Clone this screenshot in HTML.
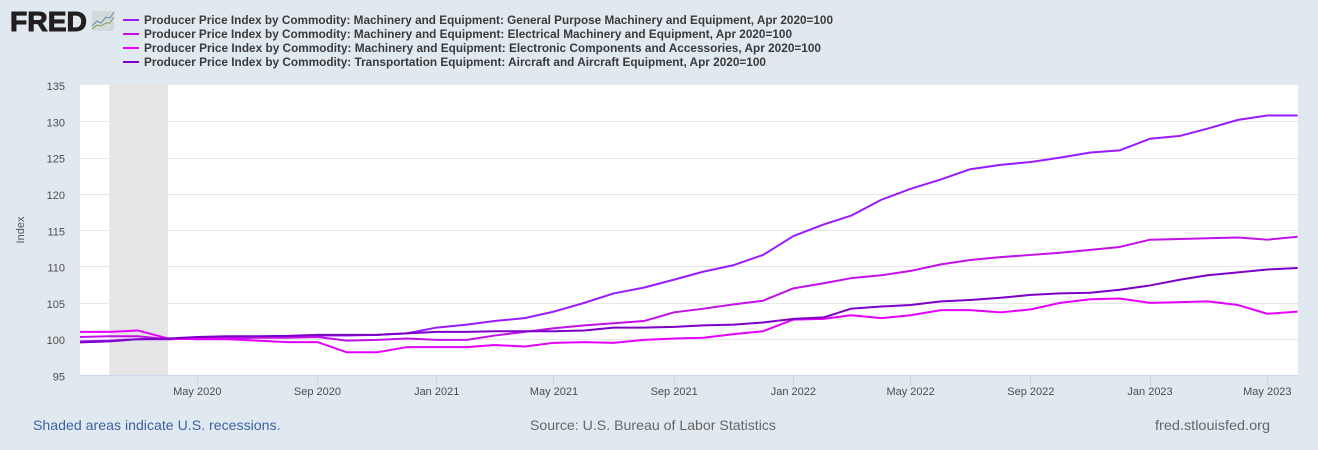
<!DOCTYPE html>
<html lang="en">
<head>
<meta charset="utf-8">
<title>FRED Producer Price Index Chart</title>
<style>
html,body{margin:0;padding:0;width:1318px;height:450px;overflow:hidden;background:#e1e9f0}
svg{display:block;font-family:"Liberation Sans",Arial,sans-serif}
</style>
</head>
<body>
<svg id="chart" width="1318" height="450" viewBox="0 0 1318 450" xmlns="http://www.w3.org/2000/svg">
  <rect x="0" y="0" width="1318" height="450" fill="#e1e9f0"/>
  <g>
    <text x="10" y="31" font-size="28" font-weight="bold" fill="#231f20" stroke="#231f20" stroke-width="1" textLength="77" lengthAdjust="spacingAndGlyphs">FRED</text>
    <rect x="92" y="11" width="22" height="20" rx="2" fill="#d4dadb"/>
    <polyline points="92,26 97,21 101,23 106,17 110,18 114,12" fill="none" stroke="#5d8fb0" stroke-width="1"/>
    <polyline points="92,29 97,25 101,26 106,23 110,23 114,17" fill="none" stroke="#7f9f4f" stroke-width="1"/>
  </g>
  <g id="legend" font-size="12" font-weight="bold" fill="#3a3a3a"></g>
  <rect x="80" y="85" width="1218" height="290.5" fill="#ffffff"/>
  <g id="recessions"></g>
  <g id="grid"></g>
  <g id="yaxis" font-size="11" fill="#4d4d4d"></g>
  <g id="xaxis" font-size="11" fill="#4d4d4d"></g>
  <text transform="translate(24,230) rotate(-90)" text-anchor="middle" font-size="11" fill="#555555">Index</text>
  <g id="series"></g>
  <text x="33" y="430" font-size="14" fill="#3d62a0" textLength="247.5" lengthAdjust="spacingAndGlyphs">Shaded areas indicate U.S. recessions.</text>
  <text x="530" y="430" font-size="14" fill="#666666" textLength="246" lengthAdjust="spacingAndGlyphs">Source: U.S. Bureau of Labor Statistics</text>
  <text x="1155" y="430" font-size="14" fill="#666666" textLength="115" lengthAdjust="spacingAndGlyphs">fred.stlouisfed.org</text>
</svg>
<script>
const categories = [
  "2020-01","2020-02","2020-03","2020-04","2020-05","2020-06","2020-07","2020-08","2020-09","2020-10","2020-11","2020-12",
  "2021-01","2021-02","2021-03","2021-04","2021-05","2021-06","2021-07","2021-08","2021-09","2021-10","2021-11","2021-12",
  "2022-01","2022-02","2022-03","2022-04","2022-05","2022-06","2022-07","2022-08","2022-09","2022-10","2022-11","2022-12",
  "2023-01","2023-02","2023-03","2023-04","2023-05","2023-06"
];
const generalPurpose = [
  99.7,99.8,100,100,100.2,100.3,100.3,100.4,100.5,100.5,100.6,100.8,
  101.6,102,102.5,102.9,103.8,105,106.3,107.1,108.2,109.3,110.2,111.6,
  114.2,115.8,117,119.2,120.7,122,123.4,124,124.4,125,125.7,126,
  127.6,128,129,130.2,130.8,130.8
];
const electricalMachinery = [
  100.3,100.4,100.4,100,100.1,100.1,100.2,100.2,100.3,99.8,99.9,100.1,
  99.9,99.9,100.5,101,101.5,101.9,102.2,102.5,103.7,104.2,104.8,105.3,
  107,107.7,108.4,108.8,109.4,110.3,110.9,111.3,111.6,111.9,112.3,112.7,
  113.7,113.8,113.9,114,113.7,114.1
];
const electronicComponents = [
  101,101,101.2,100.1,100,100,99.8,99.6,99.6,98.2,98.2,98.9,
  98.9,98.9,99.2,99,99.5,99.6,99.5,99.9,100.1,100.2,100.7,101.1,
  102.7,102.8,103.3,102.9,103.3,104,104,103.7,104.1,105,105.5,105.6,
  105,105.1,105.2,104.7,103.5,103.8
];
const aircraftEquipment = [
  99.55,99.7,100,100.1,100.3,100.4,100.4,100.45,100.6,100.6,100.6,100.8,
  101,101,101.1,101.1,101.1,101.2,101.6,101.6,101.7,101.9,102,102.3,
  102.8,103,104.2,104.5,104.7,105.2,105.4,105.7,106.1,106.3,106.4,106.8,
  107.4,108.2,108.8,109.2,109.6,109.8
];
const seriesNames = [
  "Producer Price Index by Commodity: Machinery and Equipment: General Purpose Machinery and Equipment, Apr 2020=100",
  "Producer Price Index by Commodity: Machinery and Equipment: Electrical Machinery and Equipment, Apr 2020=100",
  "Producer Price Index by Commodity: Machinery and Equipment: Electronic Components and Accessories, Apr 2020=100",
  "Producer Price Index by Commodity: Transportation Equipment: Aircraft and Aircraft Equipment, Apr 2020=100"
];
const seriesKeys = ["general-purpose","electrical-machinery","electronic-components","aircraft-equipment"];
const seriesValues = [generalPurpose, electricalMachinery, electronicComponents, aircraftEquipment];
const seriesColors = ["#9a1bff","#c40fe8","#e600ff","#7d00c8"];
const yTicks = [95,100,105,110,115,120,125,130,135];
const xTickDates = ["2020-05","2020-09","2021-01","2021-05","2021-09","2022-01","2022-05","2022-09","2023-01","2023-05"];
const xTickLabels = ["May 2020","Sep 2020","Jan 2021","May 2021","Sep 2021","Jan 2022","May 2022","Sep 2022","Jan 2023","May 2023"];
const recessionStart = "2020-02";
const recessionEnd = "2020-04";

const NS = "http://www.w3.org/2000/svg";
const plot = {left: 80, right: 1298, top: 85, bottom: 375.5};
const legendTextWidths = [689, 648, 677, 622];
const yMin = 95, yMax = 135;
const DAY = 86400000;
function dateDays(s) {
  const p = s.split("-");
  return Date.UTC(+p[0], +p[1] - 1, 1) / DAY;
}
const refDays = dateDays("2020-05");
function xScale(s) { return 197.3 + 0.97717 * (dateDays(s) - refDays); }
function yScale(v) { return plot.bottom - (v - yMin) / (yMax - yMin) * (plot.bottom - plot.top); }
function make(tag, attrs, parent, txt) {
  const el = document.createElementNS(NS, tag);
  for (const k in attrs) el.setAttribute(k, attrs[k]);
  if (txt !== undefined) el.textContent = txt;
  parent.appendChild(el);
  return el;
}

const clip = make("clipPath", {id: "plot-clip"}, document.getElementById("chart"));
make("rect", {x: plot.left, y: plot.top - 2, width: plot.right - plot.left, height: plot.bottom - plot.top + 4}, clip);

const recG = document.getElementById("recessions");
const band = make("rect", {
  x: xScale(recessionStart), y: plot.top,
  width: xScale(recessionEnd) - xScale(recessionStart),
  height: plot.bottom - plot.top, fill: "#e5e5e5"
}, recG);



const gridG = document.getElementById("grid");
const yG = document.getElementById("yaxis");
yTicks.forEach(function (t) {
  const y = yScale(t);
  if (t !== yMin && t !== yMax) {
    const yy = Math.floor(y + 0.4) + 0.5;
    const ln = make("line", {x1: plot.left, x2: plot.right, y1: yy, y2: yy, stroke: "#e6e6e6", "stroke-width": 1}, gridG);
    
    
  }
  const lb = make("text", {x: 65, y: y + 5, "text-anchor": "end"}, yG, String(t));
  
  
});

const xG = document.getElementById("xaxis");
const axisLine = make("line", {x1: plot.left, x2: plot.right, y1: plot.bottom, y2: plot.bottom, stroke: "#ccd6eb", "stroke-width": 1}, xG);


xTickDates.forEach(function (d, i) {
  const x = xScale(d);
  const xx = Math.floor(x) + 0.5;
  const tk = make("line", {x1: xx, x2: xx, y1: plot.bottom, y2: plot.bottom + 10, stroke: "#ccd6eb", "stroke-width": 1}, xG);
  
  
  const lb = make("text", {x: x, y: 395, "text-anchor": "middle"}, xG, xTickLabels[i]);
  
  
});

const legendG = document.getElementById("legend");
seriesNames.forEach(function (name, i) {
  const y = 20 + i * 14;
  const entry = make("g", {}, legendG);
  
  
  const sw = make("line", {x1: 123, x2: 139, y1: y, y2: y, stroke: seriesColors[i], "stroke-width": 2}, entry);
  
  
  const tx = make("text", {x: 144, y: y + 4, textLength: legendTextWidths[i], lengthAdjust: "spacingAndGlyphs"}, entry, name);
  
  
});

const seriesG = document.getElementById("series");
seriesValues.forEach(function (vals, i) {
  const pts = vals.map(function (v, j) {
    return xScale(categories[j]).toFixed(2) + "," + yScale(v).toFixed(2);
  }).join(" ");
  const pl = make("polyline", {points: pts, fill: "none", stroke: seriesColors[i], "stroke-width": 2, "stroke-linejoin": "round", "clip-path": "url(#plot-clip)"}, seriesG);
  
  
});
</script>
</body>
</html>
